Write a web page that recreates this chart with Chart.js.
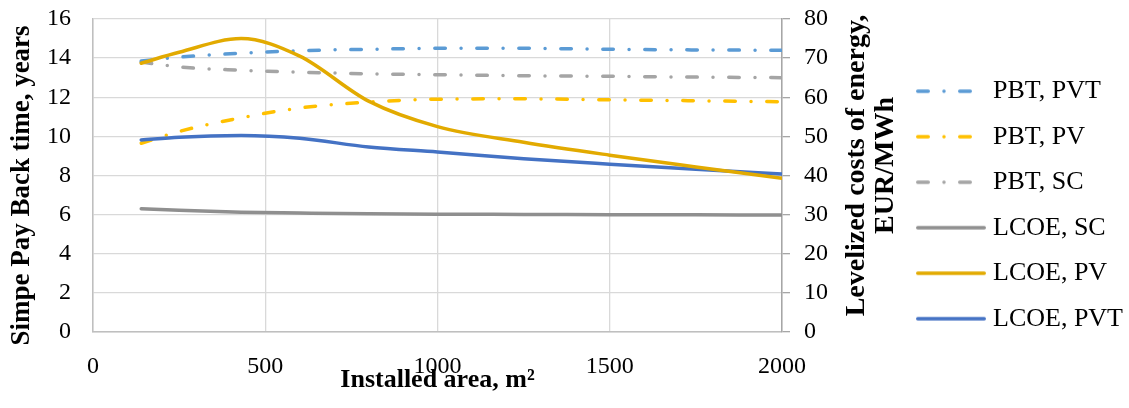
<!DOCTYPE html>
<html>
<head>
    <meta charset="UTF-8">
    <title>PBT and LCOE vs installed area</title>
    <style>
        html, body { margin: 0; padding: 0; background: #fff; }
        .wrap { width: 1129px; height: 408px; }
    </style>
</head>
<body>
    <div class="wrap"><canvas id="myChart" width="1129" height="408"></canvas></div>
    <script src="https://cdn.jsdelivr.net/npm/chart.js"></script>
    <script>
        // installed area, m2
        const areas = [140, 250, 430, 600, 800, 1000, 1250, 1500, 1750, 2000];

        // simple pay back time, years (left axis)
        const pbtPvt = [13.85, 14.05, 14.25, 14.38, 14.45, 14.5, 14.5, 14.45, 14.42, 14.4];
        const pbtPv = [9.65, 10.25, 10.95, 11.45, 11.75, 11.9, 11.92, 11.87, 11.82, 11.77];
        const pbtSc = [13.8, 13.55, 13.38, 13.28, 13.2, 13.15, 13.1, 13.07, 13.03, 13.0];

        // levelized costs of energy, EUR/MWh (right axis)
        const lcoeSc = [31.5, 31.1, 30.6, 30.4, 30.2, 30.1, 30.05, 30.0, 29.95, 29.9];
        const lcoePv = [68.7, 71.5, 75, 70.5, 59, 52.5, 48.5, 45.2, 42.2, 39.3];
        const lcoePvt = [49.1, 49.8, 50.2, 49.5, 47.3, 46, 44.3, 42.9, 41.6, 40.4];

        const leftTitle = 'Simpe Pay Back time, years';
        const rightTitle = ['Levelized costs of energy,', 'EUR/MWh'];

        const serif = '"Liberation Serif", "Times New Roman", serif';
        const dashDot = [10.5, 15.75, 0, 15.75];

        // small line sample used as legend symbol (legend point styles ignore dashes)
        function legendSymbol(color, dashed) {
            const c = document.createElement('canvas');
            c.width = 70;
            c.height = 8;
            const g = c.getContext('2d');
            g.strokeStyle = color;
            g.lineWidth = 3.5;
            g.lineCap = 'round';
            g.setLineDash(dashed ? dashDot : []);
            g.beginPath();
            g.moveTo(1.75, 4);
            g.lineTo(dashed ? 56 : 68.25, 4);
            g.stroke();
            return c;
        }

        function line(label, data, color, axis, dashed) {
            return {
                label: label,
                data: data,
                yAxisID: axis,
                borderColor: color,
                backgroundColor: color,
                borderWidth: 3.5,
                borderDash: dashed ? dashDot : [],
                borderCapStyle: 'round',
                pointRadius: 0,
                pointStyle: legendSymbol(color, dashed),
                cubicInterpolationMode: 'monotone',
                fill: false,
                order: dashed ? 1 : 0
            };
        }

        // y scales: fixed width, and don't let tick padding push the plot top down
        function fixY(width) {
            return s => {
                s.width = width;
                s.paddingTop = 19;
                s.paddingBottom = 15;
            };
        }

        // both y titles read bottom-to-top (Chart.js turns the right one the other way)
        const axisTitles = {
            id: 'axisTitles',
            afterLayout(chart) {
                // let the legend text run to the canvas edge instead of being clipped
                const lg = chart.legend;
                lg.right = chart.width;
                lg.width = lg.right - lg.left;
            },
            afterDraw(chart) {
                const ctx = chart.ctx;
                const area = chart.chartArea;
                const cy = (area.top + area.bottom) / 2;
                ctx.save();
                ctx.fillStyle = '#000';
                ctx.textAlign = 'center';
                ctx.textBaseline = 'middle';

                ctx.font = 'bold 27px ' + serif;
                ctx.save();
                ctx.translate(22, cy + 10);
                ctx.rotate(-Math.PI / 2);
                ctx.fillText(leftTitle, 0, 0);
                ctx.restore();

                ctx.font = 'bold 28px ' + serif;
                rightTitle.forEach((t, i) => {
                    ctx.save();
                    ctx.translate(area.right + 75 + i * 29, cy - 10);
                    ctx.rotate(-Math.PI / 2);
                    ctx.fillText(t, 0, 0);
                    ctx.restore();
                });
                ctx.restore();
            }
        };

        const ctx = document.getElementById('myChart').getContext('2d');
        const myChart = new Chart(ctx, {
            type: 'line',
            data: {
                labels: areas,
                datasets: [
                    line('PBT, PVT', pbtPvt, '#5B9BD5', 'y', true),
                    line('PBT, PV', pbtPv, '#FFC000', 'y', true),
                    line('PBT, SC', pbtSc, '#A5A5A5', 'y', true),
                    line('LCOE, SC', lcoeSc, '#8F8F8F', 'y1', false),
                    line('LCOE, PV', lcoePv, '#E2AA00', 'y1', false),
                    line('LCOE, PVT', lcoePvt, '#4472C4', 'y1', false)
                ]
            },
            options: {
                responsive: false,
                animation: false,
                layout: { padding: { top: 2, right: 46, bottom: 0, left: 0 } },
                plugins: {
                    tooltip: { enabled: false },
                    legend: {
                        position: 'right',
                        labels: {
                            usePointStyle: true,
                            pointStyleWidth: 58,
                            padding: 19.5,
                            color: '#000',
                            font: { family: serif, size: 26 },
                            sort: (a, b) => a.datasetIndex - b.datasetIndex
                        }
                    }
                },
                scales: {
                    x: {
                        type: 'linear',
                        min: 0,
                        max: 2000,
                        ticks: {
                            stepSize: 500,
                            padding: 20,
                            color: '#000',
                            font: { family: serif, size: 24 },
                            callback: v => String(v)
                        },
                        grid: { color: '#D9D9D9', lineWidth: 1.3, drawTicks: false },
                        border: { color: '#BFBFBF', width: 1.5 },
                        title: {
                            display: true,
                            text: 'Installed area, m²',
                            color: '#000',
                            font: { family: serif, size: 26, weight: 'bold' },
                            padding: { top: 0, bottom: 12 }
                        },
                        afterFit: s => { s.height = 76; }
                    },
                    y: {
                        position: 'left',
                        min: 0,
                        max: 16,
                        ticks: { stepSize: 2, padding: 22, color: '#000', font: { family: serif, size: 24 } },
                        grid: { color: '#D9D9D9', lineWidth: 1.3, drawTicks: false },
                        border: { color: '#BFBFBF', width: 1.5 },
                        afterFit: fixY(93)
                    },
                    y1: {
                        position: 'right',
                        min: 0,
                        max: 80,
                        ticks: { stepSize: 10, padding: 14, color: '#000', font: { family: serif, size: 24 } },
                        grid: { drawOnChartArea: false, color: '#A6A6A6', tickLength: 8, lineWidth: 1.3 },
                        border: { color: '#A6A6A6', width: 1.5 },
                        afterFit: fixY(120.5)
                    }
                }
            },
            plugins: [axisTitles]
        });
    </script>
</body>
</html>
